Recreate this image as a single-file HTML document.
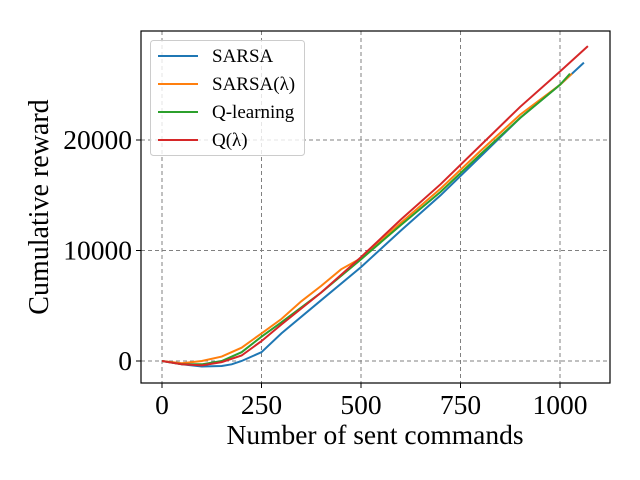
<!DOCTYPE html>
<html><head><meta charset="utf-8"><style>
body{margin:0;background:#fff}
svg{display:block;font-family:"Liberation Serif","DejaVu Serif",serif}
</style></head><body>
<svg id="chart" width="640" height="480">
<g id="grid"></g>
<g id="series"></g>
<rect x="141" y="31" width="469" height="352" fill="none" stroke="#000" stroke-width="1.2"/>
<g id="ticks"></g>
<text x="375" y="444" font-size="27.5" text-anchor="middle">Number of sent commands</text>
<text transform="translate(48,207) rotate(-90)" font-size="28" text-anchor="middle">Cumulative reward</text>
<g id="legend"></g>
</svg>
<script>
const xTicks=[0,250,500,750,1000];
const yTicks=[0,10000,20000];
const seriesNames=["SARSA","SARSA(λ)","Q-learning","Q(λ)"];
const seriesColors=["#1f77b4","#ff7f0e","#2ca02c","#d62728"];
const sarsaX=[0,50,100,150,175,200,250,300,400,500,600,700,800,900,1000,1060];
const sarsaY=[0,-300,-500,-450,-300,0,800,2500,5500,8500,11800,15000,18500,22000,25000,27000];
const sarsaLX=[0,50,100,150,200,250,300,350,400,450,500,600,700,800,900,1000,1030];
const sarsaLY=[0,-200,0,400,1200,2500,3800,5400,6800,8300,9300,12500,15600,19000,22300,25000,26000];
const qX=[0,50,100,150,200,250,300,400,500,600,700,800,900,1000,1025];
const qY=[0,-300,-300,0,800,2200,3500,6200,9200,12300,15300,18700,22000,25000,26000];
const qLX=[0,50,100,150,200,250,300,400,500,600,700,800,900,1000,1070];
const qLY=[0,-300,-400,-100,500,1800,3300,6200,9400,12800,16000,19500,23000,26200,28500];
const allX=[sarsaX,sarsaLX,qX,qLX], allY=[sarsaY,sarsaLY,qY,qLY];
const sx=v=>162+v*0.398;
const sy=v=>361-v*0.01105;
const NS="http://www.w3.org/2000/svg";
function mk(t,a,p){const e=document.createElementNS(NS,t);for(const k in a)e.setAttribute(k,a[k]);p.appendChild(e);return e;}
const grid=document.getElementById('grid'),ticks=document.getElementById('ticks');
xTicks.forEach(v=>{
 const l=mk('line',{x1:sx(v),x2:sx(v),y1:31,y2:383,stroke:'#808080','stroke-dasharray':'4,3','stroke-width':1},grid);
 
 const t=mk('line',{x1:sx(v),x2:sx(v),y1:383,y2:388,stroke:'#000'},ticks);
 
 const s=mk('text',{x:sx(v),y:414,'font-size':27.5,'text-anchor':'middle'},ticks);s.textContent=v;
 
});
yTicks.forEach(v=>{
 const l=mk('line',{x1:141,x2:610,y1:sy(v),y2:sy(v),stroke:'#808080','stroke-dasharray':'4,3','stroke-width':1},grid);
 
 const t=mk('line',{x1:136,x2:141,y1:sy(v),y2:sy(v),stroke:'#000'},ticks);
 
 const s=mk('text',{x:132,y:sy(v)+9,'font-size':27.5,'text-anchor':'end'},ticks);s.textContent=v;
 
});
const ser=document.getElementById('series');
allX.forEach((xs,i)=>{
 const d=xs.map((x,j)=>(j?'L':'M')+sx(x).toFixed(1)+','+sy(allY[i][j]).toFixed(1)).join(' ');
 const p=mk('path',{d:d,fill:'none',stroke:seriesColors[i],'stroke-width':2},ser);
 
});
const lg=document.getElementById('legend');
const box=mk('rect',{x:150.5,y:40.5,width:154,height:115,rx:3,fill:'#fff','fill-opacity':0.8,stroke:'#ccc'},lg);

seriesNames.forEach((n,i)=>{
 const y=56+i*28;
 const l=mk('line',{x1:158,x2:198,y1:y,y2:y,stroke:seriesColors[i],'stroke-width':2},lg);
 
 const t=mk('text',{x:212,y:y+6,'font-size':19},lg);t.textContent=n;
 
});
</script>
</body></html>
